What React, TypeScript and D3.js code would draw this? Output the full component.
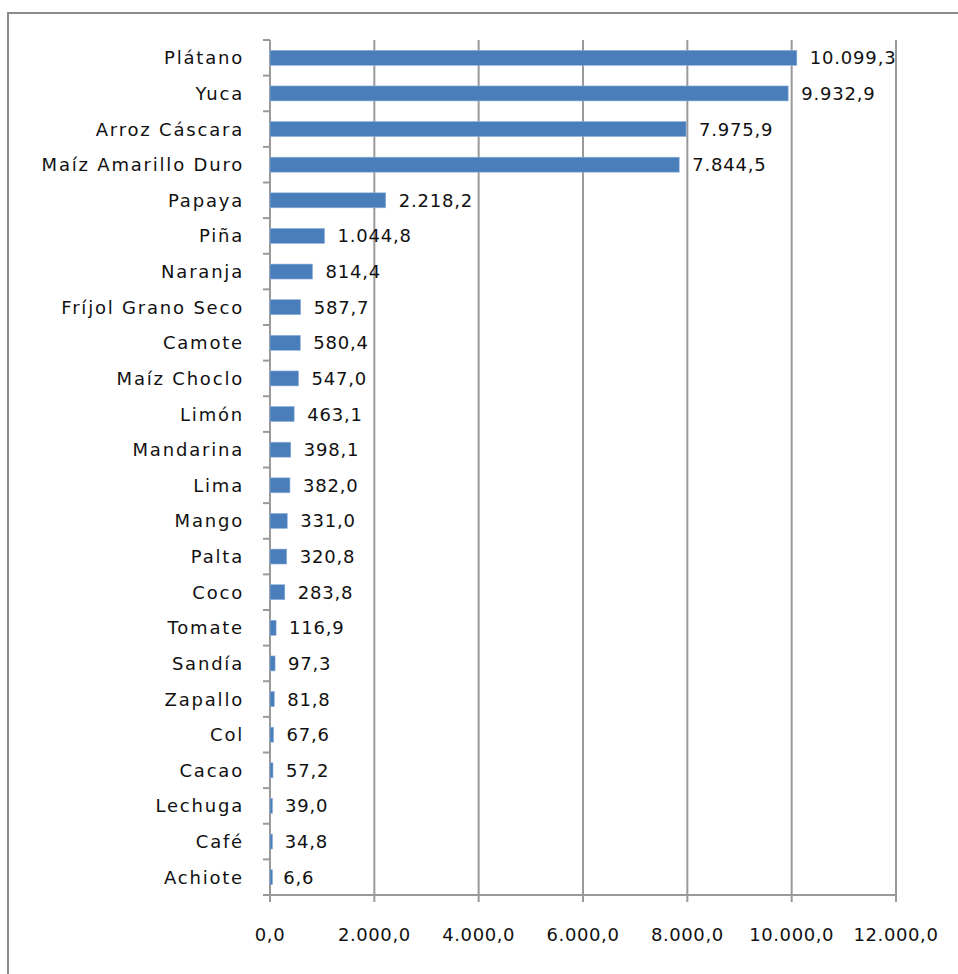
import React from "react";
import * as d3 from "d3";

const categories = [
  "Plátano", "Yuca", "Arroz Cáscara", "Maíz Amarillo Duro", "Papaya", "Piña", "Naranja",
  "Fríjol Grano Seco", "Camote", "Maíz Choclo", "Limón", "Mandarina", "Lima", "Mango",
  "Palta", "Coco", "Tomate", "Sandía", "Zapallo", "Col", "Cacao", "Lechuga", "Café", "Achiote",
];
const values = [
  10099.3, 9932.9, 7975.9, 7844.5, 2218.2, 1044.8, 814.4, 587.7, 580.4, 547.0, 463.1, 398.1,
  382.0, 331.0, 320.8, 283.8, 116.9, 97.3, 81.8, 67.6, 57.2, 39.0, 34.8, 6.6,
];
const xTicks = [0, 2000, 4000, 6000, 8000, 10000, 12000];

const locale = d3.formatLocale({ decimal: ",", thousands: ".", grouping: [3], currency: ["", ""] });
const fmt = locale.format(",.1f");

const W = 958;
const H = 974;
const left = 270;
const right = 896;
const top = 40;
const bottom = 895;
const FONT = "'DejaVu Sans', Verdana, sans-serif";

export default function App() {
  const x = d3.scaleLinear().domain([0, 12000]).range([left, right]);
  const y = d3.scaleBand<string>().domain(categories).range([top, bottom]).paddingInner(0.58).paddingOuter(0.29);
  const band = (bottom - top) / categories.length;
  const grid = "#9a9a9a";

  return (
    <div style={{ position: "absolute", left: 0, top: 0 }}>
      <svg width={W} height={H} style={{ display: "block" }}>
        <rect x={0} y={0} width={W} height={H} fill="#fff" />
        <rect x={8} y={13} width={W + 20} height={H + 20} fill="none" stroke="#8c8c8c" strokeWidth={2} />
        {xTicks.map((t) => (
          <line key={"g" + t} x1={x(t)} x2={x(t)} y1={top} y2={bottom + 7} stroke={grid} strokeWidth={2} />
        ))}
        <line x1={left} x2={right} y1={bottom} y2={bottom} stroke={grid} strokeWidth={2} />
        {d3.range(categories.length + 1).map((i) => (
          <line key={"yt" + i} x1={left - 7} x2={left} y1={top + i * band} y2={top + i * band} stroke={grid} strokeWidth={2} />
        ))}
        {categories.map((c, i) => (
          <rect
            key={"b" + c}
            x={x(0)}
            y={y(c)}
            width={Math.max(2.5, x(values[i]) - x(0))}
            height={y.bandwidth()}
            fill="#4A7EBB"
            stroke="#8fb0da"
            strokeWidth={0.6}
          />
        ))}
        {categories.map((c, i) => (
          <text
            key={"v" + c}
            x={x(values[i]) + 13}
            y={(y(c) as number) + y.bandwidth() / 2}
            dy="0.36em"
            fontFamily={FONT}
            fontSize={18}
            letterSpacing={0.8}
            fill="#111"
          >
            {fmt(values[i])}
          </text>
        ))}
        {categories.map((c) => (
          <text
            key={"c" + c}
            x={244}
            y={(y(c) as number) + y.bandwidth() / 2}
            dy="0.36em"
            textAnchor="end"
            fontFamily={FONT}
            fontSize={18}
            letterSpacing={1.8}
            fill="#111"
          >
            {c}
          </text>
        ))}
        {xTicks.map((t) => (
          <text
            key={"xl" + t}
            x={x(t)}
            y={941}
            textAnchor="middle"
            fontFamily={FONT}
            fontSize={18}
            letterSpacing={0.6}
            fill="#111"
          >
            {fmt(t)}
          </text>
        ))}
      </svg>
    </div>
  );
}
